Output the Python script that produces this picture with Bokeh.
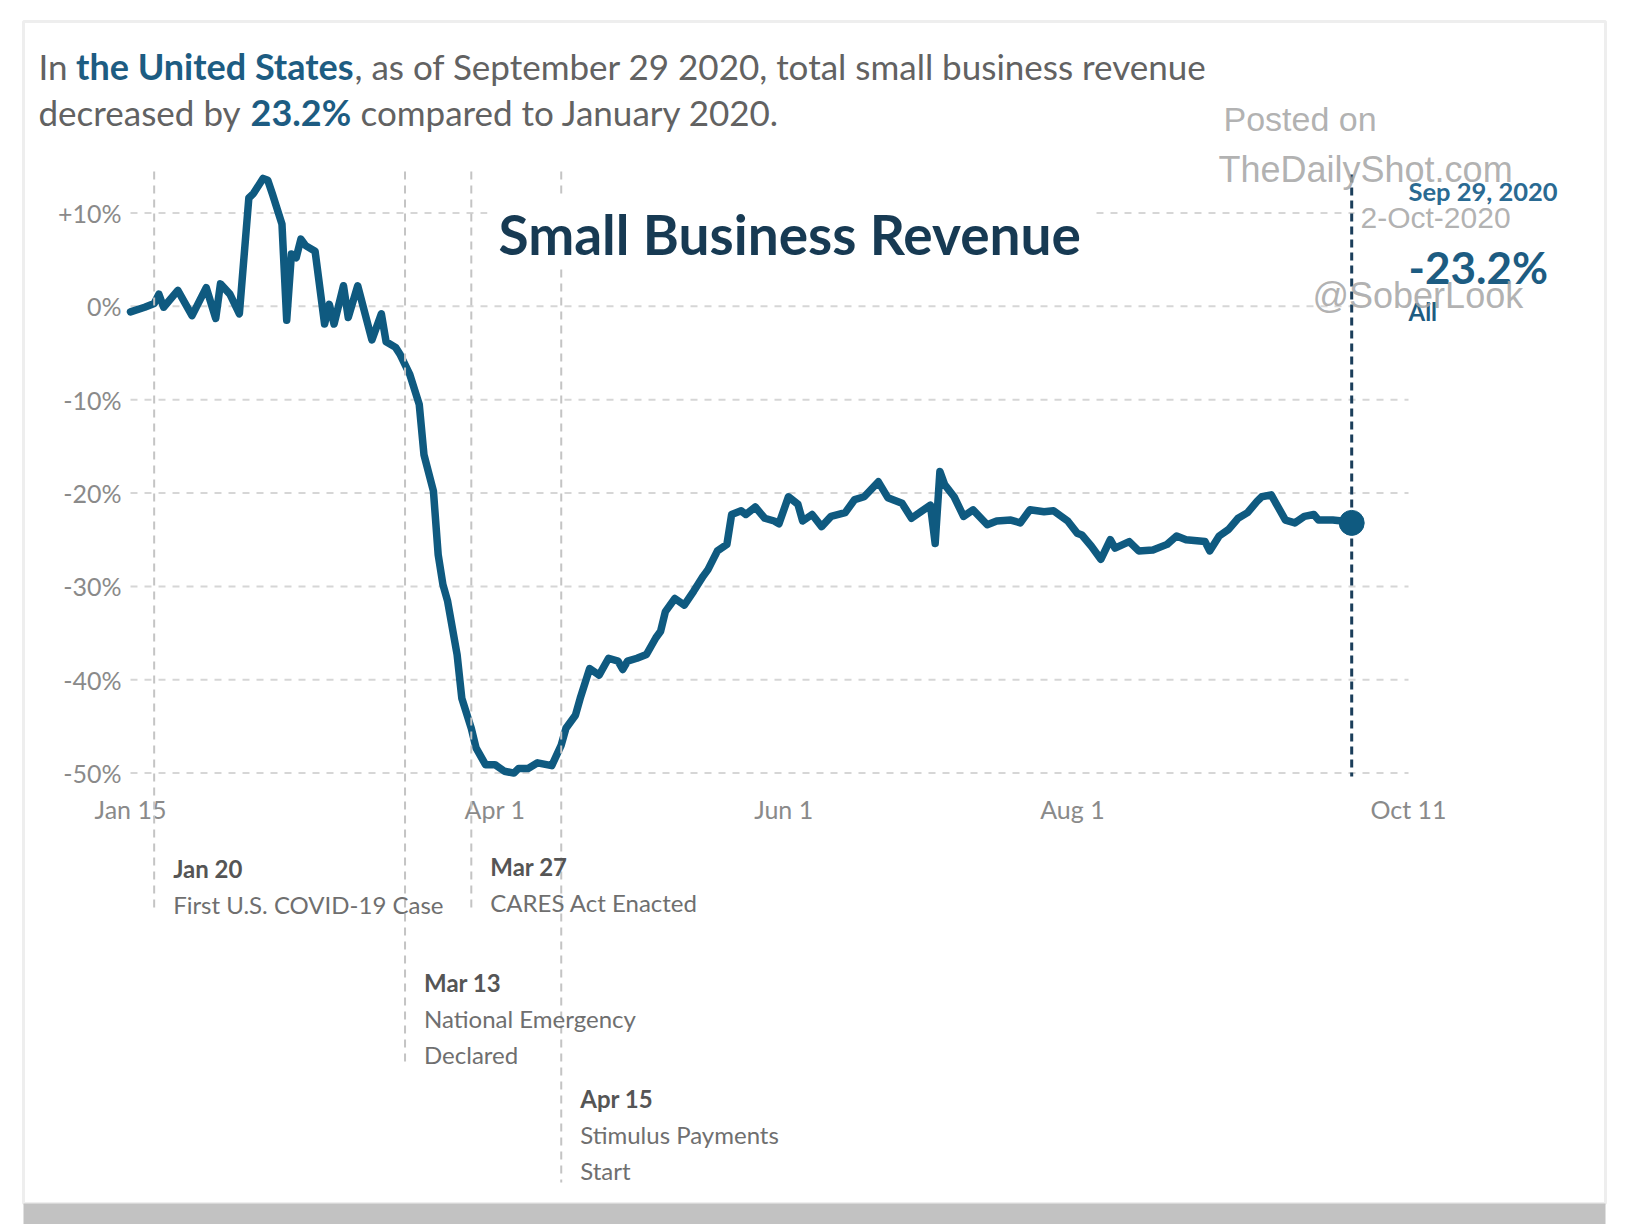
import pandas as pd
from bokeh.plotting import figure
from bokeh.models import Range1d, FixedTicker, Label, BoxAnnotation, Arrow
from bokeh.embed import file_html
from bokeh.resources import INLINE

# ---------------- data ----------------
dates = [
    "2020-01-15", "2020-01-18", "2020-01-20", "2020-01-21", "2020-01-22", "2020-01-25",
    "2020-01-28", "2020-01-31", "2020-02-02", "2020-02-03", "2020-02-05", "2020-02-07",
    "2020-02-09", "2020-02-10", "2020-02-12", "2020-02-13", "2020-02-14", "2020-02-16",
    "2020-02-17", "2020-02-18", "2020-02-19", "2020-02-20", "2020-02-21", "2020-02-23",
    "2020-02-25", "2020-02-26", "2020-02-27", "2020-02-29", "2020-03-01", "2020-03-03",
    "2020-03-06", "2020-03-08", "2020-03-09", "2020-03-11", "2020-03-12", "2020-03-14",
    "2020-03-16", "2020-03-17", "2020-03-19", "2020-03-20", "2020-03-21", "2020-03-22",
    "2020-03-24", "2020-03-25", "2020-03-27", "2020-03-28", "2020-03-30", "2020-04-01",
    "2020-04-03", "2020-04-05", "2020-04-06", "2020-04-08", "2020-04-10", "2020-04-13",
    "2020-04-15", "2020-04-16", "2020-04-18", "2020-04-19", "2020-04-21", "2020-04-23",
    "2020-04-25", "2020-04-27", "2020-04-28", "2020-04-29", "2020-05-01", "2020-05-03",
    "2020-05-05", "2020-05-06", "2020-05-07", "2020-05-09", "2020-05-11", "2020-05-13",
    "2020-05-15", "2020-05-16", "2020-05-18", "2020-05-20", "2020-05-21", "2020-05-23",
    "2020-05-24", "2020-05-26", "2020-05-28", "2020-05-30", "2020-05-31", "2020-06-02",
    "2020-06-04", "2020-06-05", "2020-06-07", "2020-06-09", "2020-06-11", "2020-06-14",
    "2020-06-16", "2020-06-18", "2020-06-21", "2020-06-23", "2020-06-26", "2020-06-28",
    "2020-06-30", "2020-07-02", "2020-07-03", "2020-07-04", "2020-07-05", "2020-07-07",
    "2020-07-09", "2020-07-11", "2020-07-14", "2020-07-16", "2020-07-19", "2020-07-21",
    "2020-07-23", "2020-07-26", "2020-07-28", "2020-07-31", "2020-08-02", "2020-08-03",
    "2020-08-05", "2020-08-07", "2020-08-09", "2020-08-10", "2020-08-13", "2020-08-15",
    "2020-08-18", "2020-08-21", "2020-08-23", "2020-08-25", "2020-08-29", "2020-08-30",
    "2020-09-01", "2020-09-03", "2020-09-05", "2020-09-07", "2020-09-09", "2020-09-10",
    "2020-09-12", "2020-09-13", "2020-09-15", "2020-09-17", "2020-09-19", "2020-09-21",
    "2020-09-22", "2020-09-25", "2020-09-27", "2020-09-29",
]
revenue_change = [
    -0.6, -0.1, 0.3, 1.3, -0.1, 1.7,
    -1.0, 2.0, -1.3, 2.4, 1.3, -0.8,
    11.6, 12.1, 13.7, 13.5, 12.0, 8.8,
    -1.5, 5.6, 5.2, 7.2, 6.5, 5.9,
    -1.9, 0.2, -1.9, 2.2, -1.2, 2.2,
    -3.6, -0.8, -3.8, -4.4, -5.2, -7.3,
    -10.5, -15.9, -19.8, -26.6, -29.8, -31.6,
    -37.3, -42.0, -45.2, -47.3, -49.1, -49.1,
    -49.8, -50.0, -49.5, -49.5, -48.9, -49.2,
    -47.0, -45.2, -43.8, -42.0, -38.8, -39.5,
    -37.7, -38.0, -38.9, -38.0, -37.7, -37.3,
    -35.5, -34.8, -32.7, -31.3, -32.0, -30.5,
    -28.9, -28.2, -26.2, -25.5, -22.3, -21.9,
    -22.3, -21.5, -22.7, -23.0, -23.3, -20.4,
    -21.2, -23.0, -22.3, -23.6, -22.5, -22.1,
    -20.7, -20.4, -18.8, -20.5, -21.1, -22.7,
    -22.0, -21.3, -25.4, -17.7, -19.1, -20.4,
    -22.5, -21.8, -23.4, -23.0, -22.9, -23.2,
    -21.8, -22.0, -21.9, -23.0, -24.3, -24.5,
    -25.7, -27.1, -25.0, -25.9, -25.2, -26.2,
    -26.1, -25.5, -24.6, -25.0, -25.2, -26.2,
    -24.6, -23.9, -22.7, -22.1, -20.9, -20.4,
    -20.2, -21.1, -22.9, -23.2, -22.5, -22.3,
    -22.9, -22.9, -23.0, -23.2,
]

y_ticks = [10, 0, -10, -20, -30, -40, -50]
y_tick_labels = ["+10%", "0%", "-10%", "-20%", "-30%", "-40%", "-50%"]
x_tick_dates = ["2020-01-15", "2020-04-01", "2020-06-01", "2020-08-01", "2020-10-11"]
x_tick_labels = ["Jan 15", "Apr 1", "Jun 1", "Aug 1", "Oct 11"]

event_dates = ["2020-01-20", "2020-03-13", "2020-03-27", "2020-04-15"]
event_titles = ["Jan 20", "Mar 13", "Mar 27", "Apr 15"]
event_texts = [["First U.S. COVID-19 Case"],
               ["National Emergency", "Declared"],
               ["CARES Act Enacted"],
               ["Stimulus Payments", "Start"]]

last_date = "2020-09-29"
last_value = -23.2
last_date_label = "Sep 29, 2020"
last_value_label = "-23.2%"
last_series_label = "All"

header_line1 = ["In", "the United States", ", as of September 29 2020, total small business revenue"]
header_line2 = ["decreased by", "23.2%", "compared to January 2020."]
chart_title = "Small Business Revenue"
watermark = ["Posted on", "TheDailyShot.com", "2-Oct-2020", "@SoberLook"]

# ---------------- helpers ----------------
BASE = pd.Timestamp("2020-01-01")


def doy(d):
    return (pd.Timestamp(d) - BASE).days


xs = [doy(d) for d in dates]

# page-pixel layout of the data area (the canvas itself is the whole frame)
FL, FR, FT, FB = 130, 1408, 171, 785
X0, X1 = 14, 284                      # Jan 15 .. Oct 11 (day of year)
ZERO_PY, PX_PER_PCT = 305.8, 9.336
PX_PER_DAY = (FR - FL) / (X1 - X0)
W, H = 1618, 1224


def X(px):
    return X0 + (px - FL) / PX_PER_DAY


def Y(py):
    return (ZERO_PY - py) / PX_PER_PCT


p = figure(width=W, height=H, output_backend="svg", toolbar_location=None,
           x_range=Range1d(X(0), X(W)), y_range=Range1d(Y(H), Y(0)),
           min_border=0, min_border_left=0, min_border_right=0,
           min_border_top=0, min_border_bottom=0)
p.outline_line_color = None
p.background_fill_color = "white"
p.border_fill_color = "white"

FONT = "Lato"
AX_COLOR = "#8a8a8a"

# y axis (drawn at the left edge of the data area)
yax = p.yaxis[0]
yax.fixed_location = X(FL)
yax.ticker = FixedTicker(ticks=y_ticks)
yax.major_label_overrides = dict(zip(y_ticks, y_tick_labels))
yax.axis_line_color = None
yax.major_tick_line_color = None
yax.minor_tick_line_color = None
yax.major_tick_in = 0
yax.major_tick_out = 0
yax.major_label_standoff = 9
yax.major_label_text_font = FONT
yax.major_label_text_font_size = "25px"
yax.major_label_text_color = AX_COLOR

# x axis (drawn at the bottom of the data area)
x_tick_vals = [doy(d) for d in x_tick_dates]
xax = p.xaxis[0]
xax.fixed_location = Y(FB)
xax.ticker = FixedTicker(ticks=x_tick_vals)
xax.major_label_overrides = dict(zip(x_tick_vals, x_tick_labels))
xax.axis_line_color = None
xax.major_tick_line_color = None
xax.minor_tick_line_color = None
xax.major_tick_in = 0
xax.major_tick_out = 0
xax.major_label_standoff = 8
xax.major_label_text_font = FONT
xax.major_label_text_font_size = "25px"
xax.major_label_text_color = AX_COLOR

# horizontal grid lines, limited to the data area
p.xgrid.visible = False
p.ygrid.visible = False
n = len(y_ticks)
p.segment(x0=[x_tick_vals[0]] * n, x1=[x_tick_vals[-1]] * n, y0=y_ticks, y1=y_ticks,
          line_color="#d6d6d6", line_width=2, line_dash="7 7")

# outer card border and bottom bar
p.add_layout(BoxAnnotation(left=X(23), right=X(1605), top=Y(21), bottom=Y(1203),
                           fill_alpha=0.0, line_color="#c6c6c6", line_width=3, level="underlay"))
p.add_layout(BoxAnnotation(left=X(23), right=X(1605), top=Y(1203), bottom=Y(H + 10),
                           fill_color="#c2c2c2", fill_alpha=1.0, line_color=None, level="underlay"))

# event lines
event_ends = [912, 1066, 912, 1182]
for d, yend in zip(event_dates, event_ends):
    x = doy(d)
    p.add_layout(Arrow(start=None, end=None, x_start=x, y_start=Y(FT), x_end=x, y_end=Y(yend),
                       line_color="#c4c4c4", line_width=2, line_dash="8 6"))

# title background (hides grid / event line behind the title)
p.add_layout(BoxAnnotation(left=X(487), right=X(1090), top=Y(198), bottom=Y(268),
                           fill_color="white", fill_alpha=1.0, line_color=None))
# tooltip background on the right
p.add_layout(BoxAnnotation(left=X(1354), right=X(FR + 2), top=Y(FT), bottom=Y(345),
                           fill_color="white", fill_alpha=1.0, line_color=None))

LINE_COLOR = "#0f5a80"
# marker line for the last date
lx = doy(last_date)
p.segment(x0=[lx], y0=[Y(174)], x1=[lx], y1=[Y(776)], line_color="#1b3e5a",
          line_width=3, line_dash="8 5")

# main series
p.line(xs, revenue_change, line_width=7.5, line_color=LINE_COLOR, line_join="round", line_cap="round")
p.scatter([lx], [last_value], size=25, color=LINE_COLOR)


def label(px, py, text, size, color, bold=False, font=FONT, alpha=1.0, align="left"):
    p.add_layout(Label(x=X(px), y=Y(py), text=text, text_font=font, text_font_size=f"{size}px",
                       text_color=color, text_alpha=alpha,
                       text_font_style="bold" if bold else "normal",
                       text_baseline="middle", text_align=align))


GRAY_TXT = "#626262"
BLUE_TXT = "#1d5c82"

# header
label(38, 65, header_line1[0], 35, GRAY_TXT)
label(75.5, 65, header_line1[1], 36, BLUE_TXT, bold=True)
label(354, 65, header_line1[2], 35, GRAY_TXT)
label(38, 111, header_line2[0], 35, GRAY_TXT)
label(250, 111, header_line2[1], 36, BLUE_TXT, bold=True)
label(360, 111, header_line2[2], 35, GRAY_TXT)

# chart title
label(498, 233, chart_title, 55, "#173a53", bold=True)

# event annotations
event_title_py = [867.7, 982, 866, 1098]
for d, t, lines, py in zip(event_dates, event_titles, event_texts, event_title_py):
    px = FL + (doy(d) - X0) * PX_PER_DAY + 19
    label(px, py, t, 24, "#555555", bold=True)
    for i, ln in enumerate(lines):
        label(px, py + 36 * (i + 1), ln, 24, "#6f6f6f")

# tooltip
label(1408, 190, last_date_label, 25.5, "#2a6a92", bold=True)
label(1408, 266, last_value_label, 44, BLUE_TXT, bold=True)
label(1408, 311, last_series_label, 24, BLUE_TXT, bold=True)

# watermark
WM = "#a4a4a4"
label(1223, 118, watermark[0], 34, WM, font="Liberation Sans", alpha=0.85)
label(1218, 169, watermark[1], 36, WM, font="Liberation Sans", alpha=0.85)
label(1360, 217, watermark[2], 30, WM, font="Liberation Sans", alpha=0.85)
label(1312, 295, watermark[3], 36, WM, font="Liberation Sans", alpha=0.85)

open("out.html", "w").write(file_html(p, INLINE))
